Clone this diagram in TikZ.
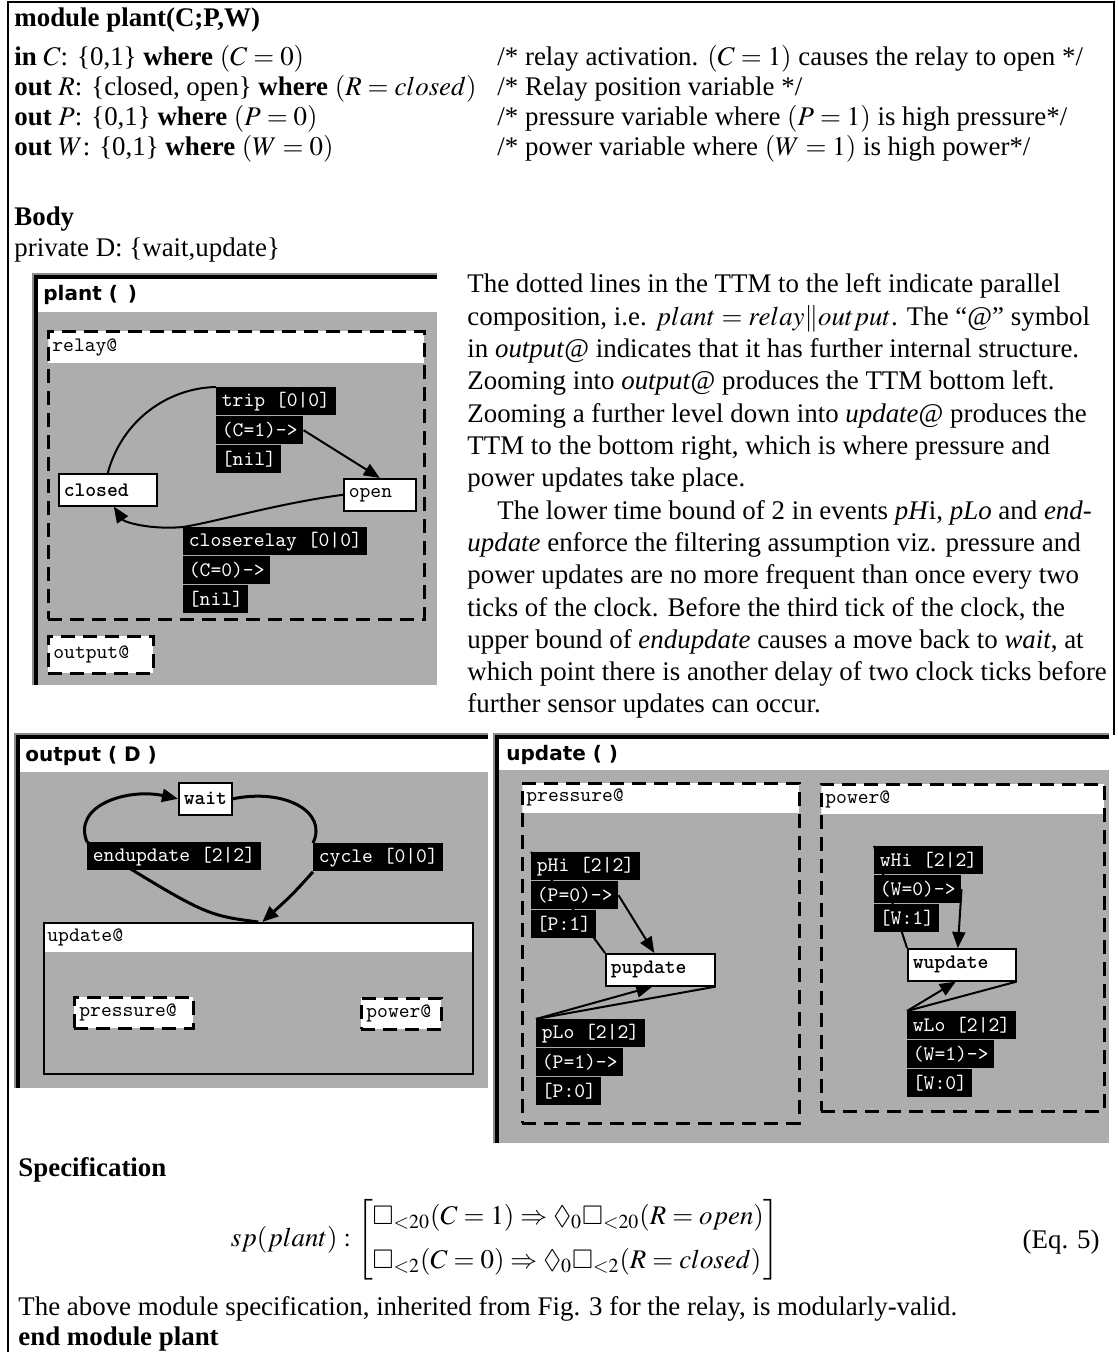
\documentclass[tikz,border=0pt]{standalone}
\usepackage{amsmath,amssymb}
\usepackage{mathptmx}
\usepackage{fontspec}
\setmainfont{Liberation Serif}
\newfontfamily\chicago{DejaVu Sans}
\usetikzlibrary{arrows.meta,positioning}
\definecolor{ttmgrey}{HTML}{ADADAD}
\definecolor{edgegrey}{HTML}{8C8C8C}
\newcommand\txtsize{\fontsize{13.45}{16.15}\selectfont}
\newcommand\ttmsize{\fontsize{10.3}{11}\selectfont\ttfamily}
\pgfdeclarelayer{winback}
\pgfdeclarelayer{wires}
\pgfsetlayers{winback,wires,main}

\begin{document}
\begin{tikzpicture}[x=0.5pt, y=-0.5pt,
  txt/.style={anchor=base west, inner sep=0pt, font=\txtsize},
  ttmtitle/.style={anchor=west, inner sep=0pt, font=\fontsize{10}{12}\selectfont\chicago\bfseries},
  ttmtext/.style={anchor=west, inner sep=0pt, font=\ttmsize},
  statebox/.style={draw, fill=white, line width=0.8pt, anchor=north west, font=\ttmsize\bfseries,
    align=left, inner xsep=2.5pt, inner ysep=0pt, minimum height=16pt},
  lblrow/.style={fill=black, text=white, anchor=north west, font=\ttmsize,
    inner xsep=2.75pt, inner ysep=0pt, minimum height=14pt},
  dashbox/.style={draw, line width=1.4pt, dash pattern=on 7pt off 4pt},
  hdrbox/.style={dashbox, anchor=north west, inner sep=0pt,
    path picture={\fill[white] (path picture bounding box.north west) rectangle ([yshift=-#1]path picture bounding box.north east);}},
  smallbox/.style={dashbox, fill=white, anchor=north west, font=\ttmsize, align=left,
    inner xsep=2.5pt, inner ysep=0pt},
  winedge/.style={edgegrey, line width=0.6pt},
  winframe/.style={line width=1.6pt},
  conn/.style={line width=1pt},
  boldconn/.style={line width=1.5pt},
  ttmarrow/.style={-{Triangle[length=8pt,width=6.5pt]}}
]
\useasboundingbox (0,0) rectangle (1117,1352);

% page frame
\draw[line width=0.8pt] (8,1352) -- (8,2) -- (1114,2) -- (1114,735);

% module header
\node[txt, font=\txtsize\bfseries] (modHead) at (14,27) {module plant(C;P,W)};
\node[txt] (inC) at (14,66) {\textbf{in} $C$: \{0,1\} \textbf{where} $(C = 0)$};
\node[txt] (outR) at (14,96) {\textbf{out} $R$: \{closed, open\} \textbf{where} $(R = closed)$};
\node[txt] (outP) at (14,126) {\textbf{out} $P$: \{0,1\} \textbf{where} $(P = 0)$};
\node[txt] (outW) at (14,156) {\textbf{out} $W$: \{0,1\} \textbf{where} $(W = 0)$};
\node[txt] (cmtC) at (497,66) {/* relay activation. $(C = 1)$ causes the relay to open */};
\node[txt] (cmtR) at (497,96) {/* Relay position variable */};
\node[txt] (cmtP) at (497,126) {/* pressure variable where $(P = 1)$ is high pressure*/};
\node[txt] (cmtW) at (497,156) {/* power variable where $(W = 1)$ is high power*/};

% body
\node[txt, font=\txtsize\bfseries] (bodyHead) at (14,226) {Body};
\node[txt] (privD) at (14,257) {private D: \{wait,update\}};

\foreach \k/\ln in {
  0/{The dotted lines in the TTM to the left indicate parallel},
  1/{composition, i.e. $plant = relay\|output$. The ``@'' symbol},
  2/{in \textit{output}@ indicates that it has further internal structure.},
  3/{Zooming into \textit{output}@ produces the TTM bottom left.},
  4/{Zooming a further level down into \textit{update}@ produces the},
  5/{TTM to the bottom right, which is where pressure and},
  6/{power updates take place.},
  7/{\hspace*{15pt}The lower time bound of 2 in events \textit{pH}i, \textit{pLo} and \textit{end-}},
  8/{\textit{update} enforce the filtering assumption viz. pressure and},
  9/{power updates are no more frequent than once every two},
  10/{ticks of the clock. Before the third tick of the clock, the},
  11/{upper bound of \textit{endupdate} causes a move back to \textit{wait}, at},
  12/{which point there is another delay of two clock ticks before},
  13/{further sensor updates can occur.}}
  \node[txt] (para\k) at (467,293+32.3*\k) {\ln};

% plant TTM
\begin{pgfonlayer}{winback}
  \fill[white] (36,277) rectangle (437,312);
  \fill[ttmgrey] (36,312) rectangle (437,685);
  \draw[winedge] (33,685) -- (33,274) -- (437,274);
  \draw[winframe] (36,685) -- (36,277) -- (437,277);
\end{pgfonlayer}
\node[ttmtitle] (plantT) at (43,295) {plant (\enspace)};
\node[hdrbox=16pt, minimum width=188pt, minimum height=144pt] (relayBox) at (47,330) {};
\node[ttmtext] (relayT) at (52,347) {relay@};
\node[statebox, text width=44pt] (closed) at (58,473) {closed};
\node[statebox, text width=31pt, font=\ttmsize] (open) at (343,478) {open};
\node[lblrow] (trip1) at (216,387) {trip [0|0]};
\node[lblrow] (trip2) at (trip1.south west) {(C=1)->};
\node[lblrow] (trip3) at (trip2.south west) {[nil]};
\node[lblrow] (close1) at (183,527) {closerelay [0|0]};
\node[lblrow] (close2) at (close1.south west) {(C=0)->};
\node[lblrow] (close3) at (close2.south west) {[nil]};
\node[smallbox, text width=47.5pt, minimum height=18.5pt] (outputAt) at (47,635) {output@};
\begin{pgfonlayer}{wires}
  \draw[conn] (closed.north) .. controls (122,420) and (168,388) .. (trip1.north west);
  \draw[conn, ttmarrow] (trip2.east) -- (open.north);
  \draw[conn] (open.west) .. controls (280,503) and (215,522) .. (close1.north west);
  \draw[conn, ttmarrow] (close1.north west) .. controls (150,530) and (124,522) .. ([xshift=3pt]closed.south);
\end{pgfonlayer}

% output TTM
\begin{pgfonlayer}{winback}
  \fill[white] (18,737) rectangle (488,772);
  \fill[ttmgrey] (18,772) rectangle (488,1088);
  \draw[winedge] (15,1088) -- (15,734) -- (488,734);
  \draw[winframe] (18,1088) -- (18,737) -- (488,737);
\end{pgfonlayer}
\node[ttmtitle] (outT) at (25,756) {output ( D )};
\node[statebox, text width=21.6pt] (wait) at (178,782) {wait};
\node[lblrow] (endUpd) at (87,842) {endupdate [2|2]};
\node[lblrow] (cycle) at (313,843) {cycle [0|0]};
\node[hdrbox=14.5pt, solid, line width=0.8pt, fill=ttmgrey, minimum width=214.5pt, minimum height=75.5pt] (updBox) at (43,922) {};
\node[ttmtext] (updAt) at (47,937) {update@};
\node[smallbox, text width=54.5pt, minimum height=15.5pt] (presAt) at (73,996) {pressure@};
\node[smallbox, text width=35pt, minimum height=15.5pt] (powAt) at (360,997) {power@};
\begin{pgfonlayer}{wires}
  \draw[boldconn] (updBox.north) .. controls (205,915) .. (endUpd.north west);
  \draw[boldconn, ttmarrow] (endUpd.north west) .. controls (72,805) and (128,788) .. (wait.west);
  \draw[boldconn] (wait.east) .. controls (285,788) and (328,812) .. (cycle.north west);
  \draw[boldconn, ttmarrow] (cycle.south west) .. controls (292,895) .. ([xshift=2pt]updBox.north);
\end{pgfonlayer}

% update TTM
\begin{pgfonlayer}{winback}
  \fill[white] (497,737) rectangle (1109,770);
  \fill[ttmgrey] (497,770) rectangle (1109,1143);
  \draw[winedge] (494,1143) -- (494,734) -- (1109,734);
  \draw[winframe] (497,1143) -- (497,737) -- (1109,737);
\end{pgfonlayer}
\node[ttmtitle] (updT) at (506,755) {update ( )};
\node[hdrbox=15pt, minimum width=138.5pt, minimum height=170pt] (presBox) at (521,782) {};
\node[ttmtext] (presT) at (526,797) {pressure@};
\node[hdrbox=15pt, minimum width=141.5pt, minimum height=163.5pt] (powBox) at (820,783) {};
\node[ttmtext] (powT) at (825,799) {power@};
\node[lblrow] (pHi1) at (531,852) {pHi [2|2]};
\node[lblrow] (pHi2) at (pHi1.south west) {(P=0)->};
\node[lblrow] (pHi3) at (pHi2.south west) {[P:1]};
\node[statebox, text width=49.5pt] (pUpd) at (605,953) {pupdate};
\node[lblrow] (pLo1) at (536,1019) {pLo [2|2]};
\node[lblrow] (pLo2) at (pLo1.south west) {(P=1)->};
\node[lblrow] (pLo3) at (pLo2.south west) {[P:0]};
\node[lblrow] (wHi1) at (874,846) {wHi [2|2]};
\node[lblrow] (wHi2) at (wHi1.south west) {(W=0)->};
\node[lblrow] (wHi3) at (wHi2.south west) {[W:1]};
\node[statebox, text width=49pt] (wUpd) at (907,948) {wupdate};
\node[lblrow] (wLo1) at (907,1011) {wLo [2|2]};
\node[lblrow] (wLo2) at (wLo1.south west) {(W=1)->};
\node[lblrow] (wLo3) at (wLo2.south west) {[W:0]};
\begin{pgfonlayer}{wires}
  \draw[conn] (pUpd.north west) -- (pHi1.north west);
  \draw[conn, ttmarrow] (pHi2.east) -- ([xshift=-3pt]pUpd.north);
  \draw[conn] (pUpd.south east) -- (pLo1.north west);
  \draw[conn, ttmarrow] (pLo1.north west) -- ([xshift=-4pt]pUpd.south);
  \draw[conn] (wUpd.north west) -- (wHi1.north west);
  \draw[conn, ttmarrow] (wHi2.east) -- ([xshift=-2pt]wUpd.north);
  \draw[conn] (wUpd.south east) -- (wLo1.north west);
  \draw[conn, ttmarrow] (wLo1.north west) -- ([xshift=-3pt]wUpd.south);
\end{pgfonlayer}

% specification
\node[txt, font=\txtsize\bfseries] (specHead) at (18,1176) {Specification};
\node[font=\txtsize, inner sep=0pt, anchor=east] (spec) at (780,1240)
  {$sp(plant):\left[\begin{array}{@{}l@{}}
    \Box_{<20}(C = 1)\Rightarrow\Diamond_0\Box_{<20}(R = open)\\[6pt]
    \Box_{<2}(C = 0)\Rightarrow\Diamond_0\Box_{<2}(R = closed)
   \end{array}\right]$};
\node[txt, anchor=base east] (eqNo) at (1100,1248) {(Eq. 5)};
\node[txt] (inherit) at (18,1315) {The above module specification, inherited from Fig. 3 for the relay, is modularly-valid.};
\node[txt, font=\txtsize\bfseries] (endMod) at (18,1345) {end module plant};
\end{tikzpicture}
\end{document}
